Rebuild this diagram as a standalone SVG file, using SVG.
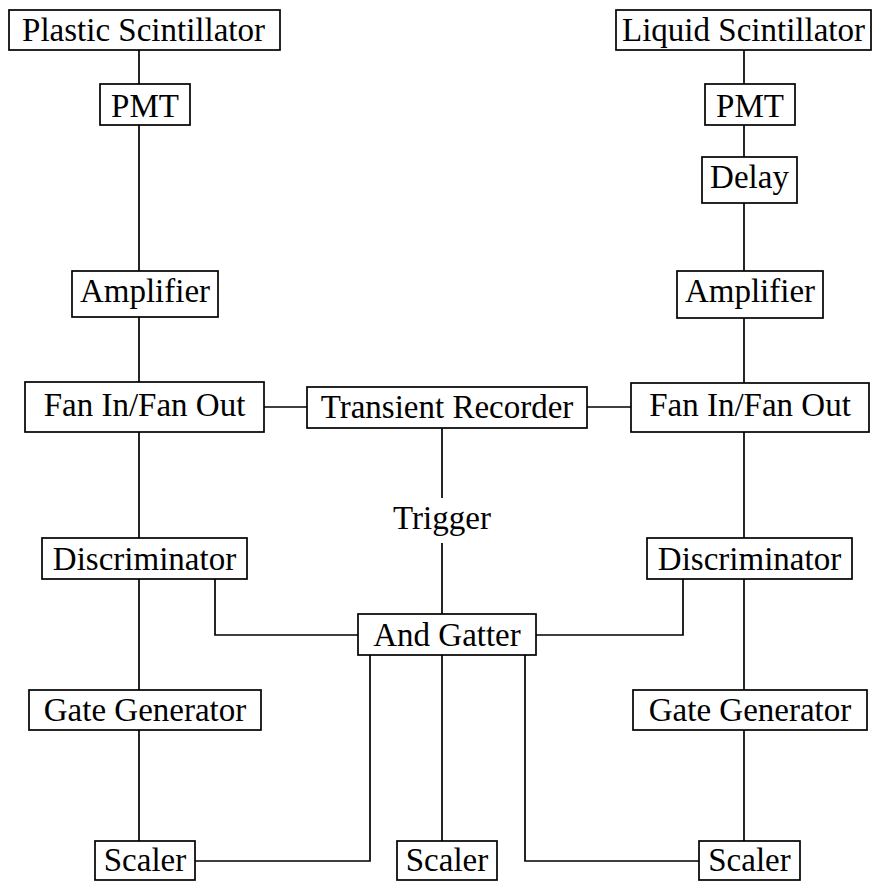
<svg xmlns="http://www.w3.org/2000/svg" width="877" height="881" viewBox="0 0 877 881">
<style>
rect{fill:#fff;stroke:#000;stroke-width:1.7}
text{font-family:"Liberation Serif","DejaVu Serif",serif;font-size:33px;text-anchor:middle;fill:#000}
#connectors path,#connectors line{fill:none;stroke:#000;stroke-width:1.7}
</style>
<rect x="0" y="0" width="877" height="881" style="stroke:none"/>
<g id="connectors">
<path d="M139 50V84M139 125V271M139 317V382M139 432V538M139 579V690M139 730V841"/>
<path d="M744 50V84M744 125V157M744 203V271M744 318V383M744 432V538M744 579V690M744 730V841"/>
<path d="M264 407H307M587 407H631"/>
<path d="M442 428V498M442 543V614"/>
<path d="M215 579V635H358M683 579V635H536"/>
<path d="M370 655V861H195M442 655V841M525 655V861H699"/>
</g>
<g id="plastic"><rect x="9" y="10" width="271" height="40"/><text x="143.5" y="40.5">Plastic Scintillator</text></g>
<g id="pmtL"><rect x="100" y="84" width="90" height="41"/><text x="145" y="116.5">PMT</text></g>
<g id="ampL"><rect x="72" y="271" width="146" height="46"/><text x="145" y="302">Amplifier</text></g>
<g id="fanL"><rect x="25" y="382" width="239" height="50"/><text x="144.5" y="416">Fan In/Fan Out</text></g>
<g id="discL"><rect x="42" y="538" width="205" height="41"/><text x="144.5" y="570">Discriminator</text></g>
<g id="gateL"><rect x="29" y="690" width="232" height="40"/><text x="145" y="720.5">Gate Generator</text></g>
<g id="scalerL"><rect x="95" y="841" width="100" height="39"/><text x="145" y="871">Scaler</text></g>
<g id="liquid"><rect x="616" y="10" width="255" height="40"/><text x="743.5" y="40.5">Liquid Scintillator</text></g>
<g id="pmtR"><rect x="705" y="84" width="90" height="41"/><text x="750" y="116.5">PMT</text></g>
<g id="delay"><rect x="702" y="157" width="95" height="46"/><text x="749.5" y="188">Delay</text></g>
<g id="ampR"><rect x="677" y="271" width="146" height="47"/><text x="750" y="302">Amplifier</text></g>
<g id="fanR"><rect x="631" y="383" width="238" height="49"/><text x="750" y="416">Fan In/Fan Out</text></g>
<g id="discR"><rect x="647" y="538" width="205" height="41"/><text x="749.5" y="570">Discriminator</text></g>
<g id="gateR"><rect x="633" y="690" width="234" height="40"/><text x="750" y="720.5">Gate Generator</text></g>
<g id="scalerR"><rect x="699" y="841" width="101" height="39"/><text x="749.5" y="871">Scaler</text></g>
<g id="transient"><rect x="307" y="387" width="280" height="41"/><text x="447" y="418">Transient Recorder</text></g>
<g id="trigger"><text x="442" y="529">Trigger</text></g>
<g id="andgate"><rect x="358" y="614" width="178" height="41"/><text x="447" y="645.5">And Gatter</text></g>
<g id="scalerM"><rect x="397" y="841" width="100" height="39"/><text x="447" y="871">Scaler</text></g>
</svg>
